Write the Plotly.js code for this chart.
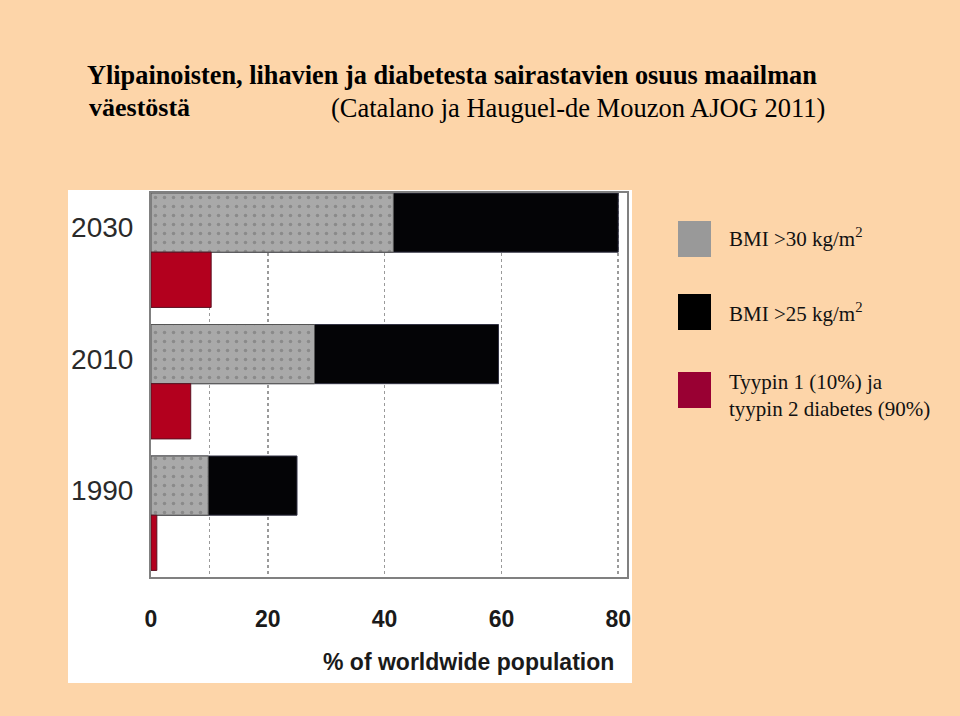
<!DOCTYPE html>
<html>
<head>
<meta charset="utf-8">
<script src="https://cdn.plot.ly/plotly-3.0.1.min.js"></script>
<style>html,body{margin:0;padding:0;background:#FDD5A9;}</style>
</head>
<body>
<div id="chart" style="width:960px;height:716px;"></div>
<script>
// Data
var years = ['1990', '2010', '2030'];
var bmi30 = [9.8, 28, 41.5];   // BMI >30 kg/m2 (% of worldwide population)
var bmi25 = [25, 59.5, 80];    // BMI >25 kg/m2
var diabetes = [1, 6.8, 10.3]; // Type 1 + type 2 diabetes
var xTickVals = [0, 10, 20, 40, 60, 80];
var xTickText = ['0', '', '20', '40', '60', '80'];
var legendLabels = ['BMI >30 kg/m<sup>2</sup>', 'BMI >25 kg/m<sup>2</sup>', 'Tyypin 1 (10%) ja<br>tyypin 2 diabetes (90%)'];

var sans = '"Liberation Sans", Arial, sans-serif';
var serif = '"Liberation Serif", "Times New Roman", serif';

var traces = [
  {
    type: 'bar', orientation: 'h', name: 'BMI >25', y: years, x: bmi25,
    offset: -0.225, width: 0.45,
    marker: {color: '#040406', line: {color: '#333344', width: 1}},
    hoverinfo: 'x', showlegend: false
  },
  {
    type: 'bar', orientation: 'h', name: 'BMI >30', y: years, x: bmi30,
    offset: -0.225, width: 0.45,
    marker: {color: '#A9A9A9', line: {color: '#555555', width: 1},
             pattern: {shape: '.', fgcolor: '#8a8a8a', bgcolor: '#A9A9A9', size: 9, solidity: 0.12}},
    hoverinfo: 'x', showlegend: false
  },
  {
    type: 'bar', orientation: 'h', name: 'Diabetes', y: years, x: diabetes,
    offset: -0.645, width: 0.42,
    marker: {color: '#B3001E', line: {color: '#5a1020', width: 1}},
    hoverinfo: 'x', showlegend: false
  }
];

var legColors = ['#999999', '#000000', '#990033'];
var shapes = [
  {type: 'rect', xref: 'paper', yref: 'paper', x0: -0.1744, x1: 1.0105, y0: -0.276, y1: 1.0078,
   fillcolor: '#FFFFFF', line: {width: 0}, layer: 'below'}
];
var annotations = [
  {xref: 'paper', yref: 'paper', x: (87 - 151) / 476, y: (577 - 108) / 384, xanchor: 'left', yanchor: 'middle',
   text: '<b>väestöstä</b>', showarrow: false, font: {family: serif, size: 26, color: '#000'}},
  {xref: 'paper', yref: 'paper', x: (329 - 151) / 476, y: (577 - 108) / 384, xanchor: 'left', yanchor: 'middle',
   text: '(Catalano ja Hauguel-de Mouzon AJOG 2011)', showarrow: false, font: {family: serif, size: 26.5, color: '#000'}},
  {xref: 'paper', yref: 'paper', x: (468 - 151) / 476, y: (577 - 662) / 384, xanchor: 'center', yanchor: 'middle',
   text: '<b>% of worldwide population</b>', showarrow: false, font: {family: sans, size: 23, color: '#1a1a1a'}}
];
// legend swatches and labels (pixel -> paper conversions)
var legY = [239, 312, 390];
var legTextY = [237, 312, 395];
for (var i = 0; i < 3; i++) {
  var cy = legY[i];
  shapes.push({type: 'rect', xref: 'paper', yref: 'paper',
    x0: (678 - 151) / 476, x1: (711 - 151) / 476,
    y0: (577 - (cy + 18)) / 384, y1: (577 - (cy - 18)) / 384,
    fillcolor: legColors[i], line: {width: 0}});
  annotations.push({xref: 'paper', yref: 'paper', x: (727 - 151) / 476, y: (577 - legTextY[i]) / 384,
    xanchor: 'left', yanchor: 'middle', align: 'left', text: legendLabels[i], showarrow: false,
    font: {family: serif, size: 21, color: '#111'}});
}

var layout = {
  width: 960, height: 716,
  paper_bgcolor: '#FDD5A9', plot_bgcolor: '#FFFFFF',
  margin: {l: 151, r: 333, t: 193, b: 139, pad: 0},
  title: {text: '<b>Ylipainoisten, lihavien ja diabetesta sairastavien osuus maailman</b>',
          x: 87 / 960, xanchor: 'left', xref: 'container', y: 1 - 75 / 716, yanchor: 'middle', yref: 'container',
          font: {family: serif, size: 26.3, color: '#000'}},
  barmode: 'overlay',
  xaxis: {range: [0, 81.5], tickvals: xTickVals, ticktext: xTickText, ticks: '',
          showgrid: true, gridcolor: '#9a9a9a', griddash: 'dot', gridwidth: 1.5,
          showline: true, linecolor: '#808080', linewidth: 2, mirror: true, zeroline: false,
          tickfont: {family: sans, size: 23, weight: 'bold', color: '#1a1a1a'}, ticklabelstandoff: 20},
  yaxis: {type: 'category', categoryorder: 'array', categoryarray: years, range: [-0.695, 2.225],
          ticks: '', showgrid: false, showline: true, linecolor: '#808080', linewidth: 2, mirror: true,
          zeroline: false, tickfont: {family: sans, size: 28, color: '#2a2a2a'}, ticklabelstandoff: 10,
          ticklabelshift: 5},
  shapes: shapes,
  annotations: annotations,
  showlegend: false
};

Plotly.newPlot('chart', traces, layout, {displayModeBar: false, staticPlot: true});
</script>
</body>
</html>
